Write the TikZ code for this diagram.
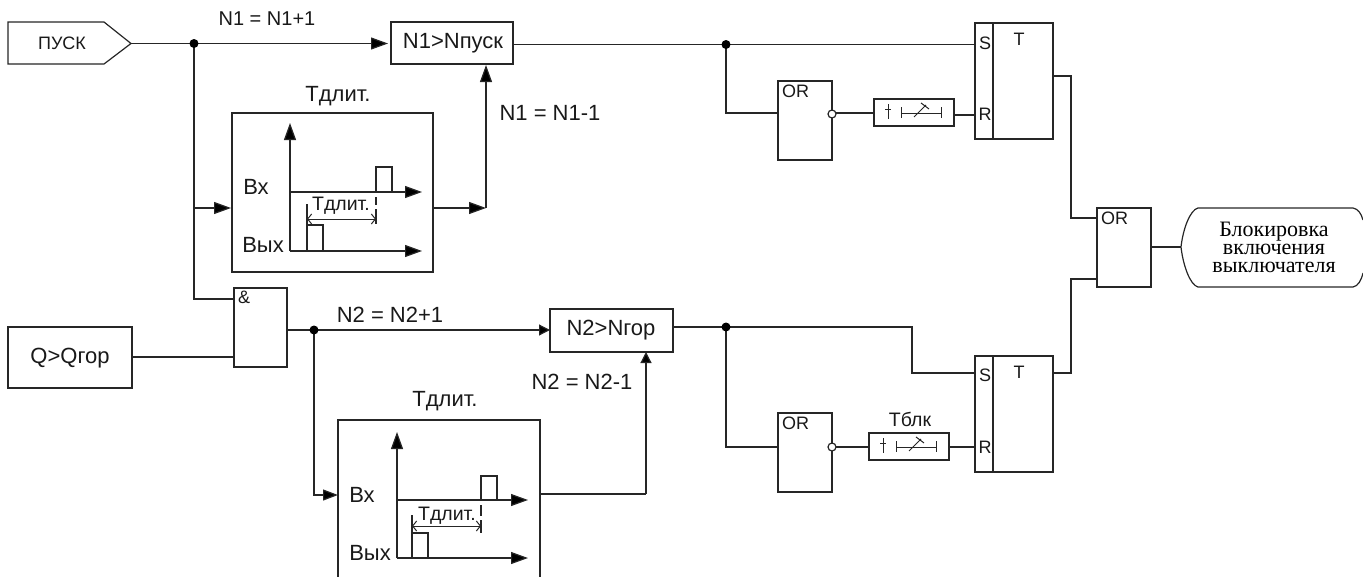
\documentclass[tikz,border=0pt]{standalone}
\usepackage{fontspec}
\setmainfont{Liberation Sans}
\newfontfamily\serifcyr{Liberation Serif}
\usetikzlibrary{arrows.meta}
\tikzset{
  x=1pt,y=-1pt,
  wire/.style={line width=1.2pt,black!85,line cap=butt},
  flow/.style={wire,-{Triangle[length=17pt,width=12pt,fill=black]}},
  flows/.style={wire,-{Triangle[length=11pt,width=11pt,fill=black]}},
  box/.style={draw=black!85,line width=1.2pt,fill=white,inner sep=0pt,outer sep=0pt,rectangle,anchor=north west},
  lbl/.style={inner sep=0pt,font=\fontsize{22}{24}\selectfont,text=black!90},
  lblm/.style={inner sep=0pt,font=\fontsize{19.5}{22}\selectfont,text=black!90},
  lbls/.style={inner sep=0pt,font=\fontsize{18}{20}\selectfont,text=black!90},
  dotj/.style={circle,fill=black,inner sep=0pt,minimum size=9pt},
  inv/.style={circle,draw=black!85,fill=white,line width=1.2pt,inner sep=0pt,minimum size=8pt},
  span/.style={wire,line width=1pt,{Straight Barb[length=4pt,width=10pt]}-{Straight Barb[length=4pt,width=10pt]}},
}
\begin{document}
\begin{tikzpicture}
\useasboundingbox (0,0) rectangle (1363,576);
% source blocks
\draw[wire,fill=white] (8,22) -- (104,22) -- (131,43.5) -- (104,64) -- (8,64) -- cycle;
\node[lbls] (pusk) at (62,43) {ПУСК};
\coordinate (puskout) at (131,43.5);
\node[box,minimum width=124pt,minimum height=61pt] (qgor) at (8,327) {};
\node[lbl] at (70,358) {Q>Qгор};
% counters
\node[box,minimum width=122pt,minimum height=42pt] (n1) at (391,22) {};
\node[lbl] at (453,43) {N1>Nпуск};
\node[box,minimum width=123pt,minimum height=43pt] (n2) at (550,309) {};
\node[lbl] at (611,330) {N2>Nгор};
% and
\node[box,minimum width=53pt,minimum height=79pt] (and) at (234,288) {};
\node[lbls,anchor=north west] at (238,291) {\&};
% timing 1
\node[box,minimum width=201pt,minimum height=159pt] (t1) at (232,113) {};
\node[lbl] at (338,96) {Тдлит.};
\draw[flow] (290,251) -- (290,123);
\draw[flow] (290,192) -- (422,192);
\draw[flow] (290,251) -- (422,251);
\draw[wire] (376,192) -- (376,167) -- (392,167) -- (392,192);
\draw[wire] (307,251) -- (307,225) -- (323,225) -- (323,251);
\draw[wire] (307,204) -- (307,225);
\draw[wire] (376,197) -- (376,205);
\draw[wire] (376,209) -- (376,224);
\draw[span] (307,219) -- (376,219);
\node[lbl] at (256,187) {Вх};
\node[lbl] at (263,245) {Вых};
\node[lblm] at (341,206) {Тдлит.};
% timing 2
\node[box,minimum width=202pt,minimum height=160pt] (t2) at (338,420) {};
\node[lbl] at (445,401) {Тдлит.};
\draw[flow] (397,558) -- (397,432);
\draw[flow] (397,500) -- (528,500);
\draw[flow] (397,558) -- (528,558);
\draw[wire] (481,500) -- (481,476) -- (497,476) -- (497,500);
\draw[wire] (412,558) -- (412,533) -- (428,533) -- (428,558);
\draw[wire] (412,515) -- (412,533);
\draw[wire] (481,505) -- (481,516);
\draw[wire] (481,520) -- (481,533);
\draw[span] (412,526) -- (481,526);
\node[lbl] at (362,495) {Вх};
\node[lbl] at (370,553) {Вых};
\node[lblm] at (447,516) {Тдлит.};
% OR blocks
\node[box,minimum width=54pt,minimum height=79pt] (or1) at (778,81) {};
\node[lbls,anchor=north west] at (782,85) {OR};
\node[box,minimum width=54pt,minimum height=79pt] (or2) at (778,413) {};
\node[lbls,anchor=north west] at (782,417) {OR};
\node[box,minimum width=54pt,minimum height=79pt] (or3) at (1097,208) {};
\node[lbls,anchor=north west] at (1101,212) {OR};
% delay
\node[box,minimum width=80pt,minimum height=27pt] (d1) at (874,99) {};
\node[box,minimum width=80pt,minimum height=27pt] (d2) at (869,433) {};
\node[lblm] at (910,419) {Тблк};
\foreach \dx/\dy in {874/113,869/447}{
 \begin{scope}[shift={(\dx pt,-\dy pt)}]
 \draw[wire,line width=1pt] (14,-9) -- (14,6);
 \draw[wire,line width=1pt] (11,-4) -- (17,-4);
 \draw[wire,line width=1pt] (27,-6) -- (27,5) (27,0) -- (67,0) (67,-6) -- (67,5);
 \draw[wire,line width=1pt] (40,4) -- (52,-8) (47,-10) -- (55,-4);
 \end{scope}
}
% SR
\node[box,minimum width=78pt,minimum height=116pt] (sr1) at (975,23) {};
\draw[wire] (993,23) -- (993,139);
\node[lbls] at (985,43) {S};
\node[lbls] at (985,114) {R};
\node[lbls] at (1019,39) {T};
\node[box,minimum width=78pt,minimum height=116pt] (sr2) at (975,356) {};
\draw[wire] (993,356) -- (993,472);
\node[lbls] at (985,375) {S};
\node[lbls] at (985,447) {R};
\node[lbls] at (1019,372) {T};
% terminal
\draw[wire] (1363,220) .. controls (1361,213) and (1358,209) .. (1353,208) -- (1198,208) .. controls (1190,210) and (1183,229) .. (1181,247) .. controls (1183,265) and (1190,285) .. (1198,287) -- (1353,287) .. controls (1358,286) and (1361,281) .. (1363,273);
\node[align=center,font=\serifcyr\fontsize{22}{18.3}\selectfont] (term) at (1274,247.5) {Блокировка\\включения\\выключателя};
\coordinate (termin) at (1181,247);
% junctions
\coordinate (j1) at (194,43.5);
\coordinate (j2) at (726,44.5);
\coordinate (j3) at (314,330);
\coordinate (j4) at (726,327);
% wires
\draw[wire] (puskout) -- (j1);
\draw[flow] (j1) -- (388,43.5);
\draw[wire] (j1) -- (194,299) -- (234,299);
\draw[flow] (194,208) -- (231,208);
\draw[flow] (433,208) -- (486,208);
\draw[flow] (486,208) -- (486,65);
\draw[wire] (513,44.5) -- (975,44.5);
\draw[wire] (j2) -- (726,113) -- (778,113);
\draw[wire] (832,113) -- (874,113);
\draw[wire] (954,115) -- (975,115);
\draw[wire] (1053,76) -- (1071,76) -- (1071,218) -- (1097,218);
\draw[wire] (1053,373) -- (1071,373) -- (1071,279) -- (1097,279);
\draw[wire] (1151,247) -- (termin);
\draw[wire] (132,357) -- (234,357);
\draw[wire] (287,330) -- (j3);
\draw[flows] (j3) -- (550,330);
\draw[wire,-{Triangle[length=15pt,width=11pt,fill=black]}] (j3) -- (314,495) -- (338,495);
\draw[wire] (540,494) -- (646,494);
\draw[flows] (646,494) -- (646,352);
\draw[wire] (673,327) -- (912,327) -- (912,373) -- (975,373);
\draw[wire] (j4) -- (726,447) -- (778,447);
\draw[wire] (832,447) -- (869,447);
\draw[wire] (949,447) -- (975,447);
\node[inv] at (832,114) {};
\node[inv] at (832,447) {};
\node[dotj] at (j1) {};
\node[dotj] at (j2) {};
\node[dotj] at (j3) {};
\node[dotj] at (j4) {};
% counting labels
\node[inner sep=0pt,font=\fontsize{20}{22}\selectfont,text=black!90] at (267,19) {N1 = N1+1};
\node[lbl] at (550,113) {N1 = N1-1};
\node[lbl] at (390,315) {N2 = N2+1};
\node[lbl] at (582,382) {N2 = N2-1};
\end{tikzpicture}
\end{document}
